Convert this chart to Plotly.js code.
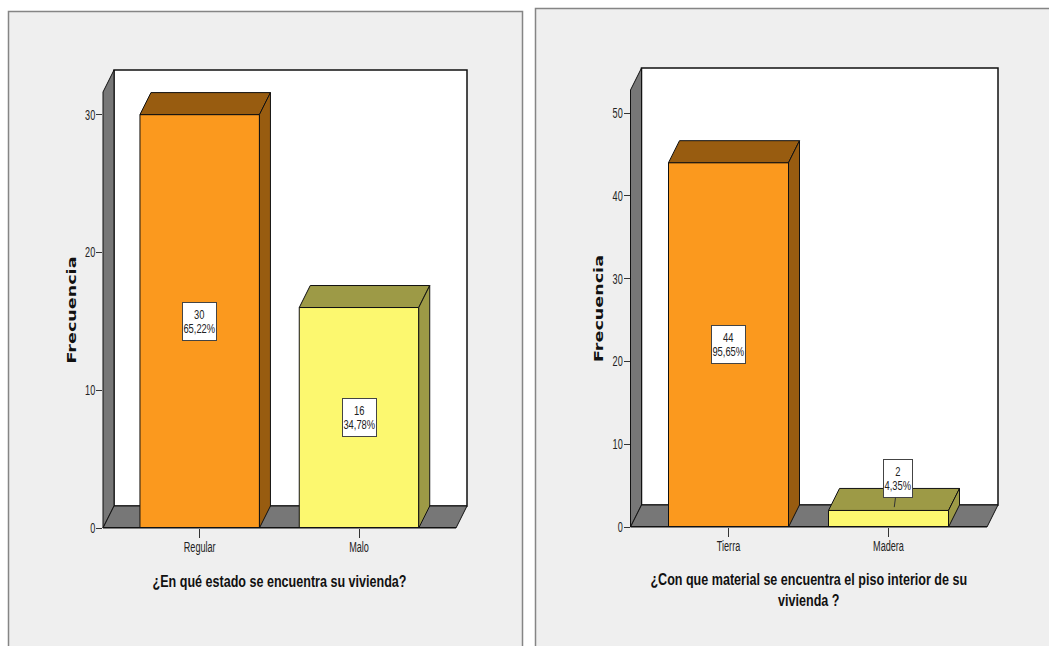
<!DOCTYPE html>
<html>
<head>
<meta charset="utf-8">
<script src="https://cdn.plot.ly/plotly-3.0.1.min.js"></script>
<style>
html,body{margin:0;padding:0;background:#fff;overflow:hidden}
#chart{width:1049px;height:646px}
</style>
</head>
<body>
<div id="chart"></div>
<script>
// Survey results: housing condition and floor material
const estadoCategorias = ['Regular', 'Malo'];
const estadoFrecuencias = [30, 16];
const estadoPorcentajes = ['65,22%', '34,78%'];
const estadoTicks = [0, 10, 20, 30];
const estadoTitulo = '¿En qué estado se encuentra su vivienda?';

const pisoCategorias = ['Tierra', 'Madera'];
const pisoFrecuencias = [44, 2];
const pisoPorcentajes = ['95,65%', '4,35%'];
const pisoTicks = [0, 10, 20, 30, 40, 50];
const pisoTitulo = '¿Con que material se encuentra el piso interior de su<br>vivienda ?';

const W = 1049, H = 646;
const ORANGE = '#fb991e', ORANGE_DARK = '#985c10';
const YELLOW = '#fcf86f', YELLOW_DARK = '#9d9a46';
const WALL = '#777777', PANEL = '#efefef', EDGE = '#111111';
const SANS = '"Liberation Sans", Arial, sans-serif';

// Frame of each chart in pixels; depth is the 3D extrusion offset
const frames = [
  {ax: '', left: 103, right: 456, bottom: 528, top: 92, pxPerUnit: 13.78, cx0: 199.7, step: 159.3,
   cats: estadoCategorias, vals: estadoFrecuencias, pcts: estadoPorcentajes, ticks: estadoTicks, title: estadoTitulo,
   standoffX: 22},
  {ax: '2', left: 630.5, right: 987, bottom: 527, top: 90, pxPerUnit: 8.28, cx0: 728.5, step: 160,
   cats: pisoCategorias, vals: pisoFrecuencias, pcts: pisoPorcentajes, ticks: pisoTicks, title: pisoTitulo,
   standoffX: 21}
];
const DEPTH_X = 11, DEPTH_Y = 22, BAR_WIDTH = 0.75;

const traces = [], shapes = [], annotations = [], layout = {};

// Grey panels behind each chart
function panel(x0, y0, x1) {
  shapes.push({type: 'rect', xref: 'paper', yref: 'paper', layer: 'below',
    x0: x0 / W, x1: x1 / W, y0: -0.02, y1: 1 - y0 / H,
    fillcolor: PANEL, line: {color: '#858585', width: 1.5}});
}
panel(8.5, 11.5, 522.5);
panel(535.5, 8.5, 1060);

frames.forEach((f) => {
  const xName = 'x' + f.ax, yName = 'y' + f.ax;
  const xKey = 'xaxis' + f.ax, yKey = 'yaxis' + f.ax;
  const xRange = [(f.left - f.cx0) / f.step, (f.right - f.cx0) / f.step];
  const yRange = [0, (f.bottom - f.top) / f.pxPerUnit];
  const dx = DEPTH_X / f.step, dy = DEPTH_Y / f.pxPerUnit;

  layout[xKey] = {
    domain: [f.left / W, f.right / W], range: xRange, anchor: yName, fixedrange: true,
    tickmode: 'array', tickvals: f.cats.map((_, i) => i), ticktext: f.cats,
    ticks: 'outside', ticklen: 9, tickwidth: 1, tickcolor: '#333', ticklabelstandoff: -3,
    showgrid: false, zeroline: false, showline: false,
    tickfont: {family: SANS, size: 14, color: '#222'},
    title: {text: f.title, standoff: f.standoffX, font: {family: SANS, size: 16, color: '#111', weight: 'bold'}}
  };
  layout[yKey] = {
    domain: [1 - f.bottom / H, 1 - f.top / H], range: yRange, anchor: xName, fixedrange: true,
    tickmode: 'array', tickvals: f.ticks,
    ticks: 'outside', ticklen: 6, tickwidth: 1, tickcolor: '#333', ticklabelstandoff: -2,
    showgrid: false, zeroline: false, showline: false,
    tickfont: {family: SANS, size: 14, color: '#222'},
    title: {text: 'Frecuencia', standoff: 0, font: {family: '"DejaVu Sans", sans-serif', size: 13, color: '#111', weight: 'bold'}}
  };

  // Data coordinates to paper fractions, for the walls that overhang the axes
  const px = (x) => (f.left + (x - xRange[0]) * f.step) / W;
  const py = (y) => 1 - (f.bottom - y * f.pxPerUnit) / H;
  const poly = (pts) => 'M' + pts.map((p) => px(p[0]) + ',' + py(p[1])).join('L') + 'Z';
  const wall = (pts, fill, width) => shapes.push({type: 'path', xref: 'paper', yref: 'paper', layer: 'below',
    path: poly(pts), fillcolor: fill, line: {color: EDGE, width: width}});

  const [xa, xb] = xRange, yt = yRange[1];
  wall([[xa + dx, dy], [xb + dx, dy], [xb + dx, yt + dy], [xa + dx, yt + dy]], '#ffffff', 1.5);
  wall([[xa, 0], [xa, yt], [xa + dx, yt + dy], [xa + dx, dy]], WALL, 1);
  wall([[xa, 0], [xa + dx, dy], [xb + dx, dy], [xb, 0]], WALL, 1);

  // Front faces
  const fronts = [ORANGE, YELLOW], shades = [ORANGE_DARK, YELLOW_DARK];
  traces.push({type: 'bar', x: f.cats.map((_, i) => i), y: f.vals, width: BAR_WIDTH,
    xaxis: xName, yaxis: yName, hoverinfo: 'skip', showlegend: false,
    marker: {color: fronts, line: {color: EDGE, width: 1}}});

  // Top and side faces of each bar
  f.vals.forEach((v, i) => {
    const a = i - BAR_WIDTH / 2, b = i + BAR_WIDTH / 2;
    const face = (xs, ys) => traces.push({type: 'scatter', mode: 'lines', x: xs, y: ys, fill: 'toself',
      fillcolor: shades[i], line: {color: EDGE, width: 1}, xaxis: xName, yaxis: yName,
      cliponaxis: false, hoverinfo: 'skip', showlegend: false});
    face([a, b, b + dx, a + dx, a], [v, v, v + dy, v + dy, v]);
    face([b, b + dx, b + dx, b, b], [0, dy, v + dy, v, 0]);
  });

  // Floor front edge
  traces.push({type: 'scatter', mode: 'lines', x: xRange, y: [0, 0], line: {color: EDGE, width: 2},
    xaxis: xName, yaxis: yName, cliponaxis: false, hoverinfo: 'skip', showlegend: false});

  // Value labels; a bar too short to hold its label gets a leader line
  f.vals.forEach((v, i) => {
    const text = v + '<br>' + f.pcts[i];
    const base = {xref: xName, yref: yName, text: text, bgcolor: '#ffffff',
      bordercolor: '#444', borderwidth: 1, borderpad: 2, width: f.pcts[i].length * 5 - 1, height: 33,
      font: {family: SANS, size: 13, color: '#222'}, align: 'center'};
    if (v * f.pxPerUnit > 60) {
      annotations.push(Object.assign(base, {x: i, y: v / 2, showarrow: false}));
    } else {
      annotations.push(Object.assign(base, {x: i + 0.036, y: v + 0.4, showarrow: true, arrowhead: 0,
        arrowwidth: 1, arrowcolor: '#333', ax: 3.7, ay: -28.5, standoff: 0}));
    }
  });
});

Object.assign(layout, {
  width: W, height: H,
  margin: {l: 0, r: 0, t: 0, b: 0},
  paper_bgcolor: '#ffffff', plot_bgcolor: 'rgba(0,0,0,0)',
  showlegend: false, barmode: 'overlay',
  shapes: shapes, annotations: annotations
});

// The chart's lettering is condensed: fit each line of text to a narrower run
function fitText(node, length) {
  node.setAttribute('textLength', length);
  node.setAttribute('lengthAdjust', 'spacingAndGlyphs');
}
function condense(selector, ratio) {
  document.querySelectorAll(selector).forEach((t) => {
    const lines = t.querySelectorAll('tspan.line');
    (lines.length ? Array.from(lines) : [t]).forEach((n) => fitText(n, n.getComputedTextLength() * ratio));
  });
}

Plotly.newPlot('chart', traces, layout, {displayModeBar: false, staticPlot: true}).then(() => {
  condense('.xtick text, .x2tick text, .ytick text, .y2tick text', 0.65);
  condense('.annotation-text', 0.72);
  document.querySelectorAll('.ytitle, .y2title').forEach((t) => fitText(t, 107));

  // Multi-line axis titles narrow around their centre line
  document.querySelectorAll('.xtitle, .x2title').forEach((t) => {
    const cx = parseFloat(t.getAttribute('x'));
    t.setAttribute('transform', `translate(${cx},0) scale(0.785,1) translate(${-cx},0)`);
  });

  // Tighter leading inside the value labels, and no clipping at the fixed box width
  document.querySelectorAll('.annotation-text').forEach((t) => {
    const lines = t.querySelectorAll('tspan.line');
    if (lines.length === 2) {
      lines[0].setAttribute('dy', '0.08em');
      lines[1].setAttribute('dy', '1.18em');
    }
  });
  document.querySelectorAll('.annotation [clip-path]').forEach((n) => n.removeAttribute('clip-path'));
  document.querySelectorAll('.annotation svg').forEach((n) => n.setAttribute('overflow', 'visible'));
});
</script>
</body>
</html>
